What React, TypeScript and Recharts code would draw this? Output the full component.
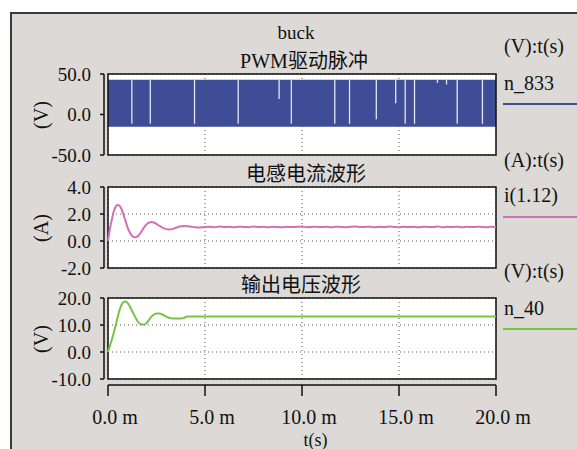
import React from 'react';
import {
  ComposedChart,
  Line,
  Area,
  XAxis,
  YAxis,
  CartesianGrid,
  ReferenceArea,
  ReferenceLine,
} from 'recharts';

const FONT = "'Liberation Serif', 'Times New Roman', 'Noto Sans CJK SC', serif";

// ---- axes ----
const xTicks = [0, 5, 10, 15, 20];
const pwmTicks = [-50, 0, 50];
const iTicks = [-2, 0, 2, 4];
const vTicks = [-10, 0, 10, 20];

// ---- PWM drive pulse (band) ----
const pwmTimes = [0, 20];
const pwmLow = [-15.2, -15.2];
const pwmHigh = [42.8, 42.8];
const pwmGapTimes = [1.23, 2.18, 4.46, 6.71, 8.82, 9.45, 11.69, 12.45, 13.83, 14.83, 15.32, 15.8, 16.98, 17.45, 18.0, 19.3];
const pwmGapBottoms = [-11.5, -11.5, -11.5, -11.5, 19, -11.5, -11.5, -11.5, -6, 14, -11.5, -11.5, 39, 37, -11.5, -11.5];

// ---- inductor current ----
const currentT = [
  0, 0.1, 0.2, 0.3, 0.4, 0.5, 0.6, 0.7, 0.8, 0.9, 1.0, 1.1, 1.2, 1.3, 1.4, 1.5, 1.6, 1.7, 1.8, 1.9, 2.0, 2.1,
  2.25, 2.4, 2.55, 2.7, 2.85, 3.0, 3.15, 3.3, 3.5, 3.7, 3.9, 4.1, 4.3, 4.5, 4.7, 4.9, 5.0,
  5.25, 5.5, 5.75, 6, 6.25, 6.5, 6.75, 7, 7.25, 7.5, 7.75, 8, 8.25, 8.5, 8.75, 9, 9.25, 9.5, 9.75, 10,
  10.25, 10.5, 10.75, 11, 11.25, 11.5, 11.75, 12, 12.25, 12.5, 12.75, 13, 13.25, 13.5, 13.75, 14, 14.25, 14.5, 14.75, 15,
  15.25, 15.5, 15.75, 16, 16.25, 16.5, 16.75, 17, 17.25, 17.5, 17.75, 18, 18.25, 18.5, 18.75, 19, 19.25, 19.5, 19.75, 20,
];
const currentI = [
  0, 0.9, 1.6, 2.2, 2.55, 2.67, 2.6, 2.35, 1.95, 1.5, 1.05, 0.7, 0.45, 0.3, 0.27, 0.32, 0.45, 0.65, 0.88, 1.08, 1.25, 1.35,
  1.4, 1.35, 1.22, 1.08, 0.95, 0.88, 0.86, 0.88, 0.98, 1.07, 1.11, 1.1, 1.06, 1.02, 1.0, 1.01, 1.03,
  1.06, 1.02, 1.07, 1.03, 1.05, 1.01, 1.06, 1.04, 1.02, 1.07,
  1.03, 1.05, 1.02, 1.06, 1.04, 1.01, 1.06, 1.03, 1.05, 1.07,
  1.02, 1.04, 1.06, 1.03, 1.05, 1.01, 1.06, 1.04, 1.02, 1.05,
  1.07, 1.03, 1.04, 1.06, 1.02, 1.05, 1.03, 1.07, 1.04, 1.02,
  1.06, 1.03, 1.05, 1.01, 1.06, 1.04, 1.03, 1.07, 1.02, 1.05,
  1.04, 1.06, 1.02, 1.05, 1.03, 1.06, 1.04, 1.02, 1.05, 1.04,
];

// ---- output voltage ----
const voltT = [
  0, 0.1, 0.2, 0.3, 0.4, 0.5, 0.6, 0.7, 0.8, 0.9, 1.0, 1.1, 1.2, 1.3, 1.4, 1.5, 1.6, 1.7, 1.8, 1.9, 2.0, 2.1, 2.2,
  2.35, 2.5, 2.65, 2.8, 2.95, 3.1, 3.25, 3.5, 3.75, 3.9, 4.0, 4.1, 20,
];
const voltV = [
  0, 2.3, 4.6, 7.2, 10, 13, 15.6, 17.5, 18.5, 18.7, 18.3, 17.2, 15.8, 14.4, 13, 11.7, 10.7, 10.3, 10.2, 10.3, 10.8, 11.8, 12.8,
  13.8, 14.3, 14.3, 13.9, 13.3, 12.8, 12.5, 12.4, 12.45, 12.5, 13.0, 13.15, 13.15,
];

const pwmData = pwmTimes.map((t, k) => ({ t, low: pwmLow[k], high: pwmHigh[k] }));
const currentData = currentT.map((t, k) => ({ t, i: currentI[k] }));
const voltData = voltT.map((t, k) => ({ t, v: voltV[k] }));

const BLUE = '#3f4c96';
const PINK = '#d070b8';
const GREEN = '#7cc242';
const INK = '#111';

type PanelProps = {
  top: number;
  height: number;
  data?: any[];
  yDomain: [number, number];
  yTicks: number[];
  showX: boolean;
  children?: React.ReactNode;
};

function Panel({ top, height, data, yDomain, yTicks, showX, children }: PanelProps) {
  return (
    <div style={{ position: 'absolute', left: 0, top }}>
      <ComposedChart
        width={577}
        height={height}
        data={data}
        margin={{ top: 10, right: 81, bottom: showX ? 0 : 10, left: 0 }}
      >
        <CartesianGrid fill="#ffffff" fillOpacity={1} stroke="#555" strokeDasharray="1 3" strokeWidth={1} />
        <XAxis
          type="number"
          dataKey="t"
          domain={[0, 20]}
          ticks={xTicks}
          interval={0}
          hide={!showX}
          height={70}
          tickSize={11}
          tickMargin={20}
          axisLine={{ stroke: INK, strokeWidth: 1.5, transform: 'translate(0,6)' } as any}
          tickLine={{ stroke: INK, strokeWidth: 1.5, transform: 'translate(0,6)' } as any}
          tick={{ fontFamily: FONT, fontSize: 20, fill: INK, dx: 7 } as any}
          tickFormatter={(v: number) => `${v.toFixed(1)} m`}
        />
        <YAxis
          type="number"
          domain={yDomain}
          ticks={yTicks}
          interval={0}
          width={108}
          tickSize={4}
          tickMargin={13}
          axisLine={{ stroke: INK, strokeWidth: 1.5, transform: 'translate(-4,0)' } as any}
          tickLine={{ stroke: INK, strokeWidth: 1.5, transform: 'translate(-4,0)' } as any}
          tick={{ fontFamily: FONT, fontSize: 19, fill: INK }}
          tickFormatter={(v: number) => v.toFixed(1)}
        />
        {children}
        <ReferenceArea
          x1={0}
          x2={20}
          y1={yDomain[0]}
          y2={yDomain[1]}
          fill="none"
          fillOpacity={0}
          stroke={INK}
          strokeWidth={1.5}
        />
      </ComposedChart>
    </div>
  );
}

function Txt({ left, top, size = 20, width, align, lh = 20, children }: any) {
  return (
    <div
      style={{
        position: 'absolute',
        left,
        top,
        width,
        textAlign: align,
        fontSize: size,
        lineHeight: `${lh}px`,
        whiteSpace: 'nowrap',
        color: INK,
        fontFamily: FONT,
      }}
    >
      {children}
    </div>
  );
}

function Title({ cx, top, size = 20, children }: any) {
  return (
    <Txt left={cx - 150} top={top} width={300} align="center" size={size}>
      {children}
    </Txt>
  );
}

function VLabel({ cx, cy, children }: any) {
  return (
    <div
      style={{
        position: 'absolute',
        left: cx - 30,
        top: cy - 12,
        width: 60,
        height: 24,
        lineHeight: '24px',
        textAlign: 'center',
        fontSize: 20,
        fontFamily: FONT,
        color: INK,
        transform: 'rotate(-90deg)',
      }}
    >
      {children}
    </div>
  );
}

function Swatch({ top, color }: any) {
  return <div style={{ position: 'absolute', left: 503, top, width: 80, height: 2, background: color }} />;
}

export default function App() {
  return (
    <div
      style={{
        position: 'absolute',
        left: 0,
        top: 0,
        width: 577,
        height: 449,
        overflow: 'hidden',
        background: '#ffffff',
        fontFamily: FONT,
      }}
    >
      <div
        style={{
          position: 'absolute',
          left: 10,
          top: 12,
          width: 640,
          height: 520,
          border: '2px solid #3a3a3a',
          background: '#dcd9d7',
          boxSizing: 'border-box',
        }}
      />

      <Title cx={296} top={23} size={19}>buck</Title>
      <Title cx={304} top={51}>PWM驱动脉冲</Title>
      <Title cx={306} top={164}>电感电流波形</Title>
      <Title cx={301} top={275}>输出电压波形</Title>

      <Txt left={504} top={36}>(V):t(s)</Txt>
      <Txt left={504} top={73}>n_833</Txt>
      <Swatch top={103} color={BLUE} />
      <Txt left={504} top={150}>(A):t(s)</Txt>
      <Txt left={504} top={185}>i(1.12)</Txt>
      <Swatch top={216} color={PINK} />
      <Txt left={504} top={261}>(V):t(s)</Txt>
      <Txt left={504} top={298}>n_40</Txt>
      <Swatch top={328} color={GREEN} />

      <VLabel cx={41} cy={114.5}>(V)</VLabel>
      <VLabel cx={41} cy={227.5}>(A)</VLabel>
      <VLabel cx={41} cy={338.5}>(V)</VLabel>

      <Txt left={315.6 - 50} top={433.5} width={100} align="center" size={18} lh={12}>t(s)</Txt>

      <Panel top={64} height={101} yDomain={[-50, 50]} yTicks={pwmTicks} showX={false}>
        <Area
          data={pwmData}
          dataKey={(d: any) => [d.low, d.high]}
          type="linear"
          stroke="none"
          fill={BLUE}
          fillOpacity={1}
          isAnimationActive={false}
        />
        {pwmGapTimes.map((t, k) => (
          <ReferenceLine
            key={k}
            segment={[
              { x: t, y: pwmHigh[0] },
              { x: t, y: pwmGapBottoms[k] },
            ]}
            stroke="#e4e7f1"
            strokeWidth={1.3}
          />
        ))}
      </Panel>

      <Panel top={177} height={101} data={currentData} yDomain={[-2, 4]} yTicks={iTicks} showX={false}>
        <Line
          dataKey="i"
          type="monotone"
          stroke={PINK}
          strokeWidth={2}
          dot={false}
          isAnimationActive={false}
        />
      </Panel>

      <Panel top={288} height={161} data={voltData} yDomain={[-10, 20]} yTicks={vTicks} showX={true}>
        <Line
          dataKey="v"
          type="monotone"
          stroke={GREEN}
          strokeWidth={2}
          dot={false}
          isAnimationActive={false}
        />
      </Panel>
    </div>
  );
}
